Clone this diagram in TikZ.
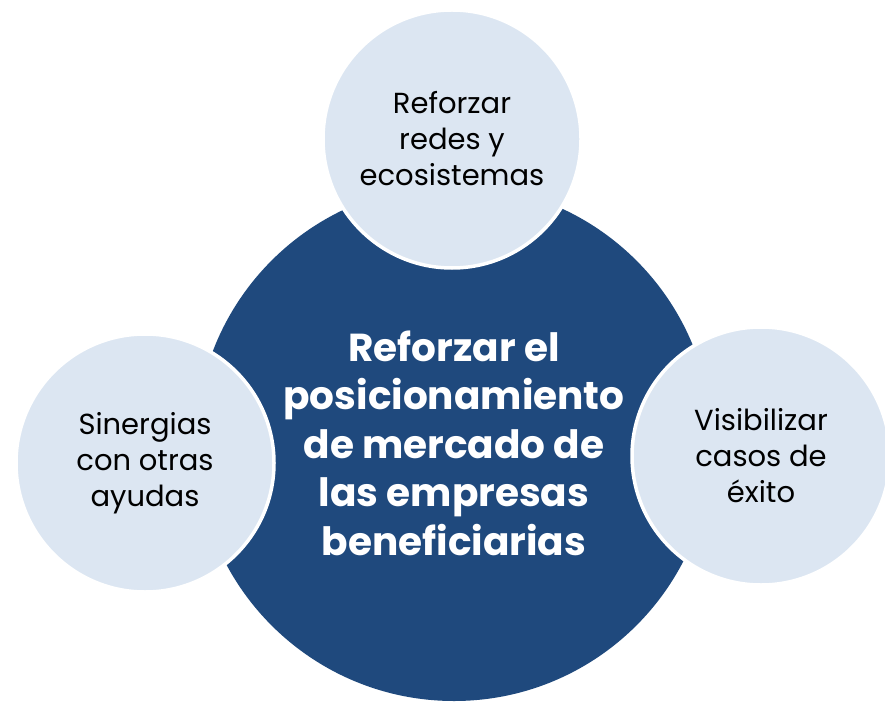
\documentclass[tikz,border=0pt]{standalone}
\usepackage{fontspec}
\setmainfont{Poppins}
\definecolor{darkblue}{RGB}{31,73,125}
\definecolor{lightblue}{RGB}{220,230,242}
\begin{document}
\begin{tikzpicture}[x=1pt,y=-1pt,
    main/.style={circle, fill=darkblue, minimum size=516pt, inner sep=0pt,
      text=white, align=center, font=\bfseries\fontsize{39}{48.5}\selectfont},
    side/.style={circle, fill=lightblue, draw=white, line width=3.5pt,
      minimum size=258pt, inner sep=0pt, text=black, align=center,
      font=\fontsize{29}{36}\selectfont}]
  \useasboundingbox (0,0) rectangle (885,703);
  \node[main] (center) at (454,443) {Reforzar el\\posicionamiento\\de mercado de\\las empresas\\beneficiarias};
  \node[side] (top) at (452,139) {Reforzar\\redes y\\ecosistemas};
  \node[side] (left) at (145,463) {Sinergias\\con otras\\ayudas};
  \node[side] (right) at (761,456) {Visibilizar\\casos de\\éxito};
\end{tikzpicture}
\end{document}
